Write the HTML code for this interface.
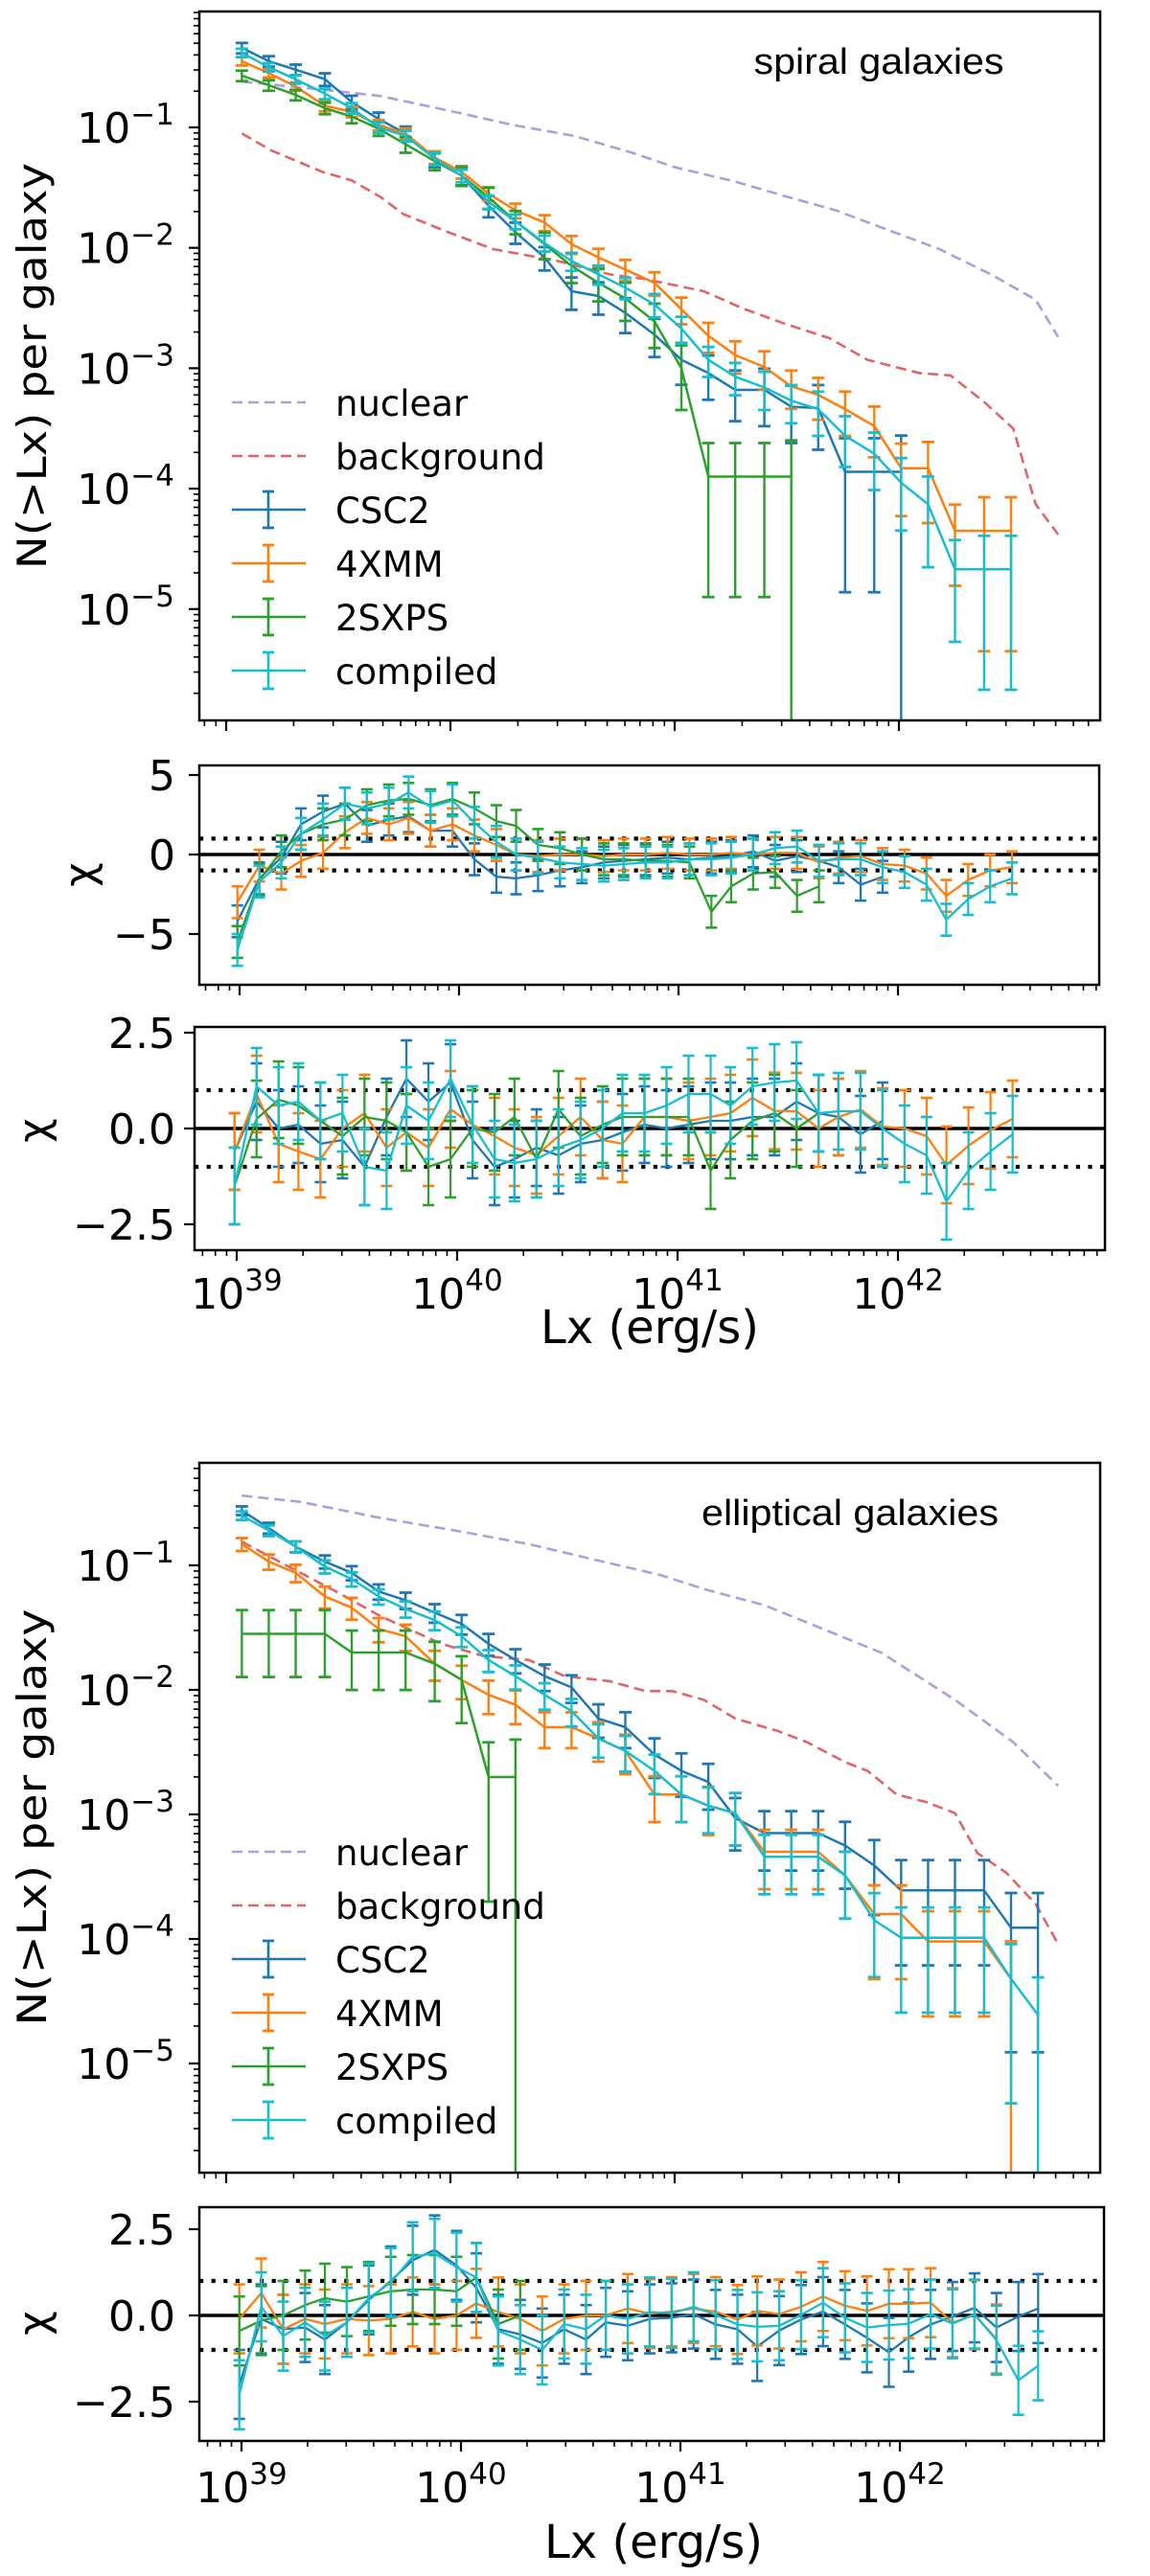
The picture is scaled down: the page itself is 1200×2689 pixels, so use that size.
<!DOCTYPE html>
<html>
<head>
<meta charset="utf-8">
<style>
html,body{margin:0;padding:0;background:#fff;}
svg{display:block;}
text{font-family:"DejaVu Sans","Liberation Sans",sans-serif;fill:#000;}
</style>
</head>
<body>
<svg id="chart" width="1200" height="2689" viewBox="0 0 1200 2689" xmlns="http://www.w3.org/2000/svg">
<rect x="0" y="0" width="1200" height="2689" fill="#fff"/>
</svg>
<script>
// ---------- DATA ----------
const mainL = [39.07,39.19,39.31,39.44,39.56,39.68,39.80,39.93,40.05,40.17,40.29,40.42,40.54,40.66,40.78,40.91,41.03,41.15,41.27,41.40,41.52,41.64,41.76,41.89,42.01,42.13,42.25,42.38,42.50,42.62];
const spCSC2 = [-0.34,-0.45,-0.52,-0.60,-0.79,-0.93,-1.05,-1.26,-1.40,-1.65,-1.87,-2.08,-2.36,-2.40,-2.54,-2.72,-2.93,-3.04,-3.18,-3.18,-3.32,-3.33,-3.86,-3.86,-3.86];
const sp4XMM = [-0.45,-0.55,-0.66,-0.82,-0.87,-0.98,-1.05,-1.25,-1.37,-1.55,-1.69,-1.79,-1.97,-2.08,-2.18,-2.29,-2.51,-2.73,-2.89,-2.99,-3.15,-3.22,-3.34,-3.48,-3.83,-3.83,-4.35,-4.35,-4.35];
const sp2SXPS = [-0.57,-0.65,-0.73,-0.84,-0.91,-1.01,-1.14,-1.28,-1.40,-1.58,-1.78,-1.97,-2.15,-2.29,-2.42,-2.61,-3.00,-3.90,-3.90,-3.90,-3.90];
const spComp = [-0.38,-0.50,-0.60,-0.72,-0.84,-1.00,-1.07,-1.26,-1.40,-1.62,-1.78,-1.96,-2.11,-2.22,-2.33,-2.47,-2.67,-2.93,-3.07,-3.16,-3.27,-3.34,-3.56,-3.71,-3.95,-4.13,-4.67,-4.67,-4.67];
const spCSC2Err = [0.1,0.1,0.1,0.12,0.13,0.13,0.14,0.15,0.17,0.2,0.2,0.22,0.3,0.3,0.32,0.35,0.38,0.4,0.45,0.5,0.5,0.55,0.9,0.9,1.0];
const sp4XMMErr = [0.08,0.08,0.08,0.1,0.1,0.1,0.1,0.12,0.12,0.13,0.14,0.15,0.17,0.18,0.2,0.22,0.25,0.28,0.3,0.35,0.35,0.38,0.4,0.45,0.6,0.65,0.65,0.9,0.9];
const sp2SXPSErr = [0.1,0.1,0.1,0.11,0.12,0.13,0.15,0.16,0.18,0.2,0.22,0.25,0.28,0.3,0.35,0.4,0.55,0.9,0.9,0.9,1.0];
const spCompErr = [0.08,0.08,0.08,0.1,0.1,0.1,0.1,0.12,0.12,0.13,0.14,0.15,0.17,0.18,0.2,0.22,0.25,0.28,0.3,0.35,0.35,0.4,0.45,0.5,0.6,0.7,0.75,0.9,0.9];
const spNucL = [39.07,39.50,39.69,39.99,40.28,40.55,40.81,41.00,41.27,41.49,41.72,41.92,42.18,42.41,42.61,42.71];
const spNucN = [-0.62,-0.70,-0.74,-0.86,-0.98,-1.07,-1.21,-1.33,-1.45,-1.57,-1.69,-1.83,-2.01,-2.22,-2.43,-2.74];
const spBkgL = [39.07,39.20,39.43,39.56,39.69,39.79,39.99,40.19,40.48,40.71,40.87,41.13,41.30,41.49,41.69,41.86,42.09,42.23,42.38,42.51,42.61,42.71];
const spBkgN = [-1.05,-1.19,-1.37,-1.44,-1.58,-1.72,-1.87,-2.01,-2.11,-2.22,-2.26,-2.36,-2.50,-2.63,-2.75,-2.93,-3.04,-3.06,-3.28,-3.50,-4.13,-4.38];
const elCSC2 = [-0.56,-0.70,-0.85,-0.97,-1.06,-1.21,-1.28,-1.38,-1.47,-1.63,-1.76,-1.89,-1.98,-2.23,-2.30,-2.52,-2.65,-2.74,-3.03,-3.15,-3.15,-3.15,-3.25,-3.41,-3.61,-3.61,-3.61,-3.61,-3.91,-3.91];
const el4XMM = [-0.83,-0.97,-1.06,-1.25,-1.34,-1.51,-1.57,-1.79,-1.92,-2.04,-2.12,-2.30,-2.30,-2.39,-2.49,-2.84,-2.84,-2.93,-2.99,-3.30,-3.30,-3.30,-3.49,-3.80,-3.80,-4.02,-4.02,-4.02,-4.32];
const el2SXPS = [-1.55,-1.55,-1.55,-1.55,-1.70,-1.70,-1.70,-1.79,-1.92,-2.70,-2.70];
const elComp = [-0.60,-0.72,-0.85,-1.01,-1.11,-1.25,-1.35,-1.44,-1.57,-1.76,-1.89,-2.04,-2.17,-2.39,-2.49,-2.65,-2.84,-2.93,-2.99,-3.34,-3.34,-3.34,-3.49,-3.85,-3.99,-3.99,-3.99,-3.99,-4.32,-4.61];
const elCSC2Err = [0.08,0.1,0.1,0.12,0.13,0.14,0.15,0.17,0.18,0.2,0.22,0.24,0.25,0.3,0.32,0.35,0.38,0.4,0.45,0.5,0.5,0.5,0.55,0.6,0.75,0.75,0.75,0.75,0.9,0.9];
const el4XMMErr = [0.12,0.14,0.16,0.2,0.2,0.22,0.24,0.27,0.3,0.3,0.3,0.32,0.32,0.35,0.35,0.4,0.4,0.42,0.45,0.5,0.5,0.5,0.55,0.7,0.7,0.75,0.75,0.75,1.0];
const el2SXPSErr = [0.55,0.55,0.55,0.55,0.5,0.5,0.5,0.5,0.55,0.9,1.0];
const elCompErr = [0.08,0.1,0.1,0.12,0.13,0.14,0.15,0.17,0.18,0.2,0.22,0.24,0.25,0.3,0.32,0.35,0.4,0.4,0.45,0.5,0.5,0.5,0.55,0.65,0.75,0.75,0.75,0.75,0.9,1.0];
const elNucL = [39.07,39.33,39.69,40.02,40.35,40.68,40.94,41.13,41.40,41.66,41.92,42.25,42.51,42.71];
const elNucN = [-0.44,-0.49,-0.62,-0.72,-0.83,-0.97,-1.08,-1.19,-1.32,-1.51,-1.70,-2.08,-2.42,-2.77];
const elBkgL = [39.07,39.30,39.50,39.69,39.96,40.15,40.35,40.51,40.71,40.87,40.99,41.13,41.27,41.46,41.59,41.76,41.86,41.99,42.12,42.25,42.35,42.48,42.61,42.71];
const elBkgN = [-0.81,-1.03,-1.22,-1.41,-1.63,-1.73,-1.76,-1.89,-1.93,-2.01,-2.01,-2.08,-2.23,-2.33,-2.42,-2.58,-2.65,-2.84,-2.90,-2.99,-3.31,-3.47,-3.72,-4.04];
const spChiL = [38.99,39.09,39.19,39.28,39.38,39.48,39.58,39.68,39.77,39.87,39.97,40.07,40.17,40.26,40.36,40.46,40.56,40.66,40.75,40.85,40.95,41.05,41.15,41.24,41.34,41.44,41.54,41.64,41.73,41.83,41.93,42.03,42.13,42.22,42.32,42.42,42.52];
const elChiL = [38.99,39.09,39.19,39.29,39.38,39.48,39.58,39.68,39.78,39.88,39.98,40.07,40.17,40.27,40.37,40.47,40.57,40.66,40.76,40.86,40.96,41.06,41.16,41.26,41.35,41.45,41.55,41.65,41.75,41.85,41.95,42.04,42.14,42.24,42.34,42.44,42.54,42.63];
const sc1CSC2 = [-4.2,-1.5,-0.2,1.9,2.7,3.2,1.8,2.2,2.4,1.5,1.5,-0.3,-1.4,-1.5,-1.3,-1.0,-0.8,-0.5,-0.4,-0.3,-0.2,-0.3,-0.2,-0.1,0.2,-0.4,-0.1,-0.4,-0.8,-1.9,-1.4];
const sc14XMM = [-3.0,-0.7,-1.2,-0.4,0.1,1.4,2.3,1.9,2.3,1.5,1.9,1.2,0.6,0.0,-0.1,0,0,-0.1,0,0,0.1,0,0,0.1,0,0.1,0.1,-0.5,-0.2,-0.1,-0.6,-0.7,-1.2,-2.6,-1.6,-1.0,-0.8];
const sc12SXPS = [-5.5,-1.6,0.2,1.3,1.9,2.2,3.1,3.4,3.5,3.1,3.5,2.9,2.1,1.8,0.6,0.4,0,-0.3,-0.3,-0.4,-0.4,-0.5,-3.6,-2.0,-1.2,-1.1,-2.6,-2.0];
const sc1Comp = [-6.0,-1.7,-0.5,1.3,2.2,3.2,2.9,3.2,3.9,3.0,3.4,2.0,0.8,0.0,-0.2,-0.5,-0.6,-0.7,-0.6,-0.5,-0.5,-0.3,-0.3,-0.2,0.0,0.4,0.5,-0.4,-0.3,-0.3,-0.8,-1.1,-1.9,-4.1,-2.8,-2.0,-1.5];
const sc2CSC2 = [-0.6,0.7,0.0,0.1,-0.4,-0.3,-1.0,0.3,1.3,0.7,1.2,-0.3,-1.0,-0.8,-0.5,-0.7,-0.4,-0.3,-0.1,0.1,0.0,0.1,0.2,0.2,0.3,0.3,0.7,0.4,0.3,-0.15,0.2];
const sc24XMM = [-0.6,0.9,-0.4,-0.6,-0.8,0.0,0.4,-0.5,-0.1,-0.5,0.5,0.1,-0.2,-0.5,-0.7,-0.2,0.3,-0.3,-0.4,0.3,0.3,0.2,0.3,0.4,0.8,0.46,0.45,0.0,0.3,0.5,0.05,0.0,-0.2,-0.95,-0.45,-0.05,0.25];
const sc22SXPS = [-1.5,0.25,0.75,0.6,0.2,-0.2,0.3,0.2,-0.1,-1.0,-0.8,0.0,-0.1,0.3,-0.8,0.5,-0.2,0.1,0.3,0.3,0.3,0.3,-1.1,-0.3,0.2,0.4,0.0,0.4];
const sc2Comp = [-1.5,1.1,0.6,0.7,0.2,0.4,-1.0,-1.1,0.6,0.2,1.3,0.1,-0.8,-0.9,-0.8,-0.5,-0.3,0.0,0.4,0.4,0.6,0.9,0.9,0.6,1.1,1.2,1.25,0.4,0.45,0.45,0.0,-0.4,-0.7,-1.9,-1.1,-0.6,-0.15];
const ecCSC2 = [-2.0,-0.1,-0.4,-0.35,-0.7,-0.2,0.45,1.0,1.6,1.9,1.45,0.8,-0.4,-0.55,-0.8,-0.4,-0.7,-0.2,-0.3,-0.1,-0.07,0.04,-0.26,-0.4,-0.9,-0.44,-0.12,0.11,-0.26,-0.65,-1.07,-0.63,-0.26,-0.03,0.22,-0.35,-0.03,0.2];
const ec4XMM = [-0.1,0.65,-0.4,-0.1,-0.25,-0.1,-0.15,-0.1,0.1,-0.1,0.0,0.35,0.1,-0.1,-0.45,-0.1,0.0,0.0,0.2,0.05,0.11,0.2,0.11,-0.12,0.13,0.04,0.25,0.55,0.28,0.13,0.34,0.34,0.37,-0.21,0.02,-0.68];
const ec2SXPS = [-0.45,-0.15,0,0.3,0.5,0.4,0.55,0.7,0.75,0.75,0.7,1.1,-0.25,0.0];
const ecComp = [-2.3,0.25,-0.6,-0.2,-0.6,-0.2,0.5,0.95,1.7,1.8,1.4,1.1,-0.45,-0.7,-1.0,-0.25,-0.4,0.0,-0.1,0.1,0.06,0.25,0.02,-0.26,-0.33,-0.3,0.02,0.37,-0.07,-0.35,-0.28,-0.24,0.04,-0.24,0.04,-0.72,-1.88,-1.46];
const chiErr = [1.0];
const seriesNames = ['CSC2','4XMM','2SXPS','compiled'];
const mainTicks = [-1,-2,-3,-4,-5];
const chi1Ticks = [5,0,-5];
const chi1TickLabels = ['5','0','\u22125'];
const chi2Ticks = [2.5,0,-2.5];
const chi2TickLabels = ['2.5','0.0','\u22122.5'];
const xDecades = [39,40,41,42];

// ---------- STYLE ----------
const COL = {CSC2:'#1f77b4','4XMM':'#ff7f0e','2SXPS':'#2ca02c',compiled:'#17becf',nuclear:'#b59bdc',background:'#e06666'};
const NS='http://www.w3.org/2000/svg';
const svg=document.getElementById('chart');
function mk(tag, attrs, parent){const e=document.createElementNS(NS,tag);for(const k in attrs)e.setAttribute(k,attrs[k]);(parent||svg).appendChild(e);return e;}
let clipId=0;

function makePanel(P, name){
  const g=mk('g',{});
  
  
  const id='clip'+(clipId++);
  const cp=mk('clipPath',{id:id},g);
  mk('rect',{x:P.L,y:P.T,width:P.R-P.L,height:P.B-P.T},cp);
  P.g=g; P.clip='url(#'+id+')';
  P.x=function(l){return P.x0+(l-39)*P.dec;};
  const inner=mk('g',{'clip-path':P.clip},g);
  
  
  P.inner=inner;
  return P;
}
function drawFrame(P){
  const fr=mk('rect',{x:P.L,y:P.T,width:P.R-P.L,height:P.B-P.T,fill:'none',stroke:'#000','stroke-width':2.5},P.g);
  
  
  const lmin=39+(P.L-P.x0)/P.dec, lmax=39+(P.R-P.x0)/P.dec;
  for(let d=38;d<=43;d++){
    for(let m=1;m<=9;m++){
      const l=d+Math.log10(m);
      if(l<lmin||l>lmax) continue;
      const x=P.x(l);
      const len=m===1?11:6;
      const t=mk('line',{x1:x,x2:x,y1:P.B,y2:P.B+len,stroke:'#000','stroke-width':m===1?2.2:1.6},P.g);
      
      
    }
  }
}
function xTickLabels(P, y){
  xDecades.forEach(function(d){
    const t=mk('text',{x:P.x(d),y:y,'text-anchor':'middle','font-size':44},P.g);
    
    
    const a=mk('tspan',{},t); a.textContent='10';
    const b=mk('tspan',{dy:-19,'font-size':31},t); b.textContent=String(d);
  });
}
function logYAxis(P){
  const top=P.yv(P.T), bot=P.yv(P.B);
  for(let d=-7;d<=1;d++){
    for(let m=1;m<=9;m++){
      const v=d+Math.log10(m);
      if(v>top||v<bot) continue;
      const y=P.y(v);
      const t=mk('line',{x1:P.L,x2:P.L-(m===1?11:6),y1:y,y2:y,stroke:'#000','stroke-width':m===1?2.2:1.6},P.g);
      
      
    }
  }
  mainTicks.forEach(function(d){
    const t=mk('text',{x:182,y:P.y(d)+16,'text-anchor':'end','font-size':44},P.g);
    
    
    const a=mk('tspan',{},t); a.textContent='10';
    const b=mk('tspan',{dy:-19,'font-size':31},t); b.textContent='\u2212'+(-d);
  });
}
function chiYAxis(P, ticks, labels){
  ticks.forEach(function(v,i){
    const y=P.y(v);
    const t=mk('line',{x1:P.L,x2:P.L-11,y1:y,y2:y,stroke:'#000','stroke-width':2.2},P.g);
    
    
    const tx=mk('text',{x:183,y:y+16,'text-anchor':'end','font-size':44},P.g);
    
    
    tx.textContent=labels[i];
  });
  const z=mk('line',{x1:P.L,x2:P.R,y1:P.y(0),y2:P.y(0),stroke:'#000','stroke-width':3.5},P.inner);
  
  
  [1,-1].forEach(function(v){
    const d=mk('line',{x1:P.L,x2:P.R,y1:P.y(v),y2:P.y(v),stroke:'#000','stroke-width':4.2,'stroke-dasharray':'4.2,8.4'},P.inner);
    
    
  });
}
function dashed(P, Ls, Ns, color, name){
  let d='';
  Ls.forEach(function(l,i){d+=(i?'L':'M')+P.x(l).toFixed(1)+','+P.y(Ns[i]).toFixed(1);});
  const p=mk('path',{d:d,fill:'none',stroke:color,'stroke-width':2.6,'stroke-dasharray':'11,6'},P.inner);
  
  
}
function seriesMain(P, Ls, vals, rel, color, name){
  const g=mk('g',{},P.inner);
  
  
  let d='';
  vals.forEach(function(v,i){
    const x=P.x(Ls[i]);
    d+=(i?'L':'M')+x.toFixed(1)+','+P.y(v).toFixed(1);
    const lin=Math.pow(10,v), r=rel[i];
    const yu=P.y(Math.log10(lin*(1+r)));
    const yl= r>=0.999 ? P.B+20 : P.y(Math.log10(lin*(1-r)));
    const e=mk('line',{x1:x,x2:x,y1:yu,y2:yl,stroke:color,'stroke-width':2.4},g);
    
    
    const c1=mk('line',{x1:x-6.5,x2:x+6.5,y1:yu,y2:yu,stroke:color,'stroke-width':2.8},g);
    
    
    if(r<0.999){
      const c2=mk('line',{x1:x-6.5,x2:x+6.5,y1:yl,y2:yl,stroke:color,'stroke-width':2.8},g);
      
      
    }
  });
  const p=mk('path',{d:d,fill:'none',stroke:color,'stroke-width':2.5,'stroke-linejoin':'round'},g);
  
  
}
function seriesChi(P, Ls, vals, color, name){
  const g=mk('g',{},P.inner);
  
  
  let d='';
  const err=chiErr[0];
  vals.forEach(function(v,i){
    const x=P.x(Ls[i]);
    d+=(i?'L':'M')+x.toFixed(1)+','+P.y(v).toFixed(1);
    const yu=P.y(v+err), yl=P.y(v-err);
    const e=mk('line',{x1:x,x2:x,y1:yu,y2:yl,stroke:color,'stroke-width':2.2},g);
    
    
    [yu,yl].forEach(function(yy){
      const c=mk('line',{x1:x-6,x2:x+6,y1:yy,y2:yy,stroke:color,'stroke-width':2.6},g);
      
      
    });
  });
  const p=mk('path',{d:d,fill:'none',stroke:color,'stroke-width':2.3,'stroke-linejoin':'round'},g);
  
  
}
function legend(y0, P){
  const g=mk('g',{},P.g);
  
  
  const items=['nuclear','background'].concat(seriesNames);
  items.forEach(function(nm,i){
    const y=y0+i*56;
    const c=COL[nm];
    if(i<2){
      const l=mk('line',{x1:242,x2:319,y1:y,y2:y,stroke:c,'stroke-width':2.6,'stroke-dasharray':'11,6'},g);
      
      
    } else {
      const l=mk('line',{x1:242,x2:319,y1:y,y2:y,stroke:c,'stroke-width':2.5},g);
      
      
      const v=mk('line',{x1:280,x2:280,y1:y-19,y2:y+19,stroke:c,'stroke-width':2.6},g);
      
      
      [y-19,y+19].forEach(function(yy){
        const cc=mk('line',{x1:274,x2:286,y1:yy,y2:yy,stroke:c,'stroke-width':2.8},g);
        
        
      });
    }
    const t=mk('text',{x:350,y:y+14,'font-size':37},g);
    
    
    t.textContent=nm;
  });
}
function rotLabel(txt, x, y, size, len, name){
  const t=mk('text',{x:0,y:0,'font-size':size,'text-anchor':'middle',transform:'translate('+x+','+y+') rotate(-90)'});
  if(len){t.setAttribute('textLength',len);t.setAttribute('lengthAdjust','spacingAndGlyphs');}
  
  
  t.textContent=txt;
}
function plainText(txt,x,y,size,anchor,name,len,family){
  const t=mk('text',{x:x,y:y,'font-size':size,'text-anchor':anchor});
  if(len){t.setAttribute('textLength',len);t.setAttribute('lengthAdjust','spacingAndGlyphs');}
  if(family){t.setAttribute('style','font-family:'+family);}
  
  
  t.textContent=txt;
}

// ---------- PANELS ----------
function mainPanel(T,B,y1){
  const P={L:208,R:1148,T:T,B:B,x0:236,dec:234};
  P.y=function(v){return y1+(-1-v)*P.decY;};
  P.yv=function(py){return -1-(py-y1)/P.decY;};
  return P;
}
const P1=mainPanel(12,752,133);
P1.decY=125.7;
makePanel(P1,'spiral-main-panel');
dashed(P1, spNucL, spNucN, COL.nuclear, 'nuclear-curve');
dashed(P1, spBkgL, spBkgN, COL.background, 'background-curve');
seriesMain(P1, mainL, spCSC2, spCSC2Err, COL.CSC2, 'CSC2');
seriesMain(P1, mainL, sp4XMM, sp4XMMErr, COL['4XMM'], '4XMM');
seriesMain(P1, mainL, sp2SXPS, sp2SXPSErr, COL['2SXPS'], '2SXPS');
seriesMain(P1, mainL, spComp, spCompErr, COL.compiled, 'compiled');
drawFrame(P1); logYAxis(P1); legend(420,P1);

const P2={L:208,R:1147,T:799,B:1028,x0:250,dec:229};
P2.y=function(c){return 892-16.6*c;};
makePanel(P2,'spiral-chi-panel-1');
chiYAxis(P2, chi1Ticks, chi1TickLabels);
seriesChi(P2, spChiL, sc1CSC2, COL.CSC2, 'CSC2');
seriesChi(P2, spChiL, sc14XMM, COL['4XMM'], '4XMM');
seriesChi(P2, spChiL, sc12SXPS, COL['2SXPS'], '2SXPS');
seriesChi(P2, spChiL, sc1Comp, COL.compiled, 'compiled');
drawFrame(P2);

const P3={L:203,R:1153,T:1072,B:1305,x0:247,dec:230};
P3.y=function(c){return 1178-40*c;};
makePanel(P3,'spiral-chi-panel-2');
chiYAxis(P3, chi2Ticks, chi2TickLabels);
seriesChi(P3, spChiL, sc2CSC2, COL.CSC2, 'CSC2');
seriesChi(P3, spChiL, sc24XMM, COL['4XMM'], '4XMM');
seriesChi(P3, spChiL, sc22SXPS, COL['2SXPS'], '2SXPS');
seriesChi(P3, spChiL, sc2Comp, COL.compiled, 'compiled');
drawFrame(P3); xTickLabels(P3,1366);

const P4=mainPanel(1527,2268,1634);
P4.decY=130;
makePanel(P4,'elliptical-main-panel');
dashed(P4, elNucL, elNucN, COL.nuclear, 'nuclear-curve');
dashed(P4, elBkgL, elBkgN, COL.background, 'background-curve');
seriesMain(P4, mainL, elCSC2, elCSC2Err, COL.CSC2, 'CSC2');
seriesMain(P4, mainL, el4XMM, el4XMMErr, COL['4XMM'], '4XMM');
seriesMain(P4, mainL, el2SXPS, el2SXPSErr, COL['2SXPS'], '2SXPS');
seriesMain(P4, mainL, elComp, elCompErr, COL.compiled, 'compiled');
drawFrame(P4); logYAxis(P4); legend(1933,P4);

const P5={L:208,R:1152,T:2304,B:2548,x0:252,dec:229};
P5.y=function(c){return 2417-36*c;};
makePanel(P5,'elliptical-chi-panel');
chiYAxis(P5, chi2Ticks, chi2TickLabels);
seriesChi(P5, elChiL, ecCSC2, COL.CSC2, 'CSC2');
seriesChi(P5, elChiL, ec4XMM, COL['4XMM'], '4XMM');
seriesChi(P5, elChiL, ec2SXPS, COL['2SXPS'], '2SXPS');
seriesChi(P5, elChiL, ecComp, COL.compiled, 'compiled');
drawFrame(P5); xTickLabels(P5,2612);

rotLabel('N(>Lx) per galaxy', 48, 382, 42, 424, 'y-axis-title-spiral');
rotLabel('N(>Lx) per galaxy', 48, 1897, 42, 435, 'y-axis-title-elliptical');
rotLabel('\u03c7', 98, 913, 44, 0, 'chi-label-spiral-1');
rotLabel('\u03c7', 50, 1180, 44, 0, 'chi-label-spiral-2');
rotLabel('\u03c7', 50, 2425, 44, 0, 'chi-label-elliptical');
plainText('Lx (erg/s)', 678, 1402, 48, 'middle', 'x-axis-title-spiral');
plainText('Lx (erg/s)', 682, 2670, 48, 'middle', 'x-axis-title-elliptical');
plainText('spiral galaxies', 917, 77, 38, 'middle', 'panel-title-spiral', 261, '"Liberation Sans", sans-serif');
plainText('elliptical galaxies', 887, 1592, 38, 'middle', 'panel-title-elliptical', 310, '"Liberation Sans", sans-serif');
</script>
</body>
</html>
